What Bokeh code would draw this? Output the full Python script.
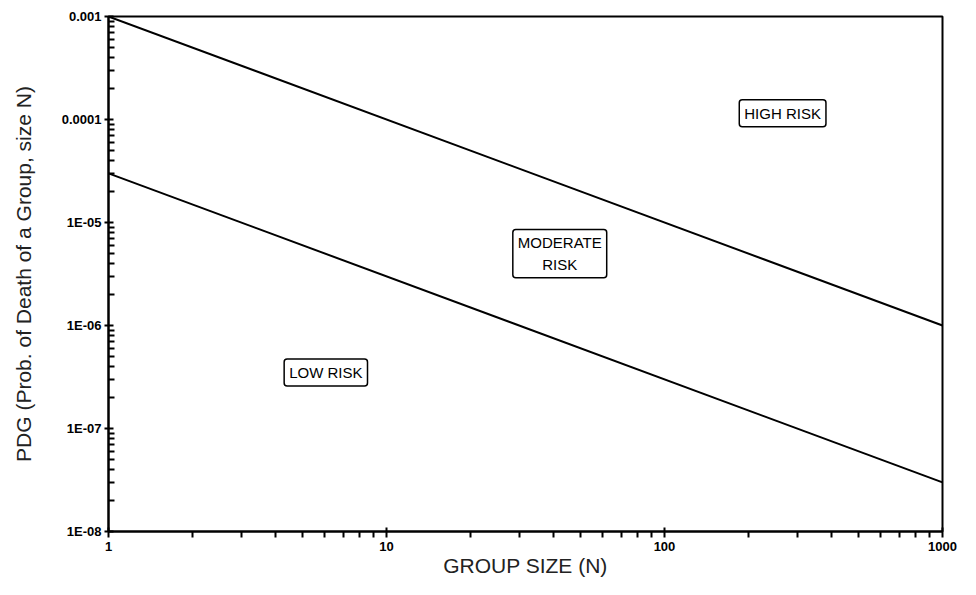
from bokeh.plotting import figure
from bokeh.models import Label, CustomJSTickFormatter, FixedTicker
from bokeh.embed import file_html
from bokeh.resources import INLINE

# Data
group_size = [1, 1000]
high_boundary = [1e-3, 1e-6]
low_boundary = [3e-5, 3e-8]

y_ticks = [1e-8, 1e-7, 1e-6, 1e-5, 1e-4, 1e-3]
y_tick_labels = ["1E-08", "1E-07", "1E-06", "1E-05", "0.0001", "0.001"]
x_ticks = [1, 10, 100, 1000]
x_tick_labels = ["1", "10", "100", "1000"]

regions = ["HIGH RISK", "MODERATE\nRISK", "LOW RISK"]
region_x = [266, 42, 6.05]
region_y = [1.15e-4, 5e-6, 3.5e-7]

# minor tick positions (2..9 within each decade)
y_minor = [k * d for d in y_ticks[:-1] for k in range(2, 10)]
x_minor = [k * d for d in x_ticks[:-1] for k in range(2, 10)]

p = figure(width=960, height=579, x_axis_type="log", y_axis_type="log",
           x_range=(1, 1000), y_range=(1e-8, 1e-3),
           output_backend="svg", toolbar_location=None,
           min_border_left=108, min_border_right=18,
           min_border_top=16, min_border_bottom=46)

p.grid.visible = False
p.outline_line_color = "black"
p.outline_line_width = 2
p.background_fill_color = "white"
p.border_fill_color = "white"

p.line(group_size, high_boundary, line_color="black", line_width=2)
p.line(group_size, low_boundary, line_color="black", line_width=2)

fmt_code = """
for (let i = 0; i < vals.length; i++) {
  if (Math.abs(Math.log10(tick) - Math.log10(vals[i])) < 1e-6) return labs[i];
}
return '';
"""
p.yaxis.ticker = FixedTicker(ticks=sorted(y_ticks), minor_ticks=sorted(y_minor))
p.yaxis.formatter = CustomJSTickFormatter(args=dict(vals=y_ticks, labs=y_tick_labels), code=fmt_code)
p.xaxis.ticker = FixedTicker(ticks=sorted(x_ticks), minor_ticks=sorted(x_minor))
p.xaxis.formatter = CustomJSTickFormatter(args=dict(vals=x_ticks, labs=x_tick_labels), code=fmt_code)

for ax in (p.xaxis, p.yaxis):
    ax.axis_line_color = "black"
    ax.axis_line_width = 2
    ax.major_tick_line_color = "black"
    ax.major_tick_line_width = 2
    ax.minor_tick_line_color = "black"
    ax.minor_tick_line_width = 2
    ax.major_label_text_font = "Liberation Sans"
    ax.major_label_text_font_style = "bold"
    ax.major_label_text_font_size = "13px"
    ax.major_label_text_color = "black"
    ax.axis_label_text_font = "Liberation Sans"
    ax.axis_label_text_font_style = "normal"
    ax.axis_label_text_font_size = "21px"
    ax.axis_label_text_color = "#222222"

p.yaxis.major_tick_in = 5
p.yaxis.major_tick_out = 4
p.yaxis.minor_tick_in = 6
p.yaxis.minor_tick_out = 0
p.yaxis.major_label_standoff = 3
p.yaxis.axis_label = "PDG (Prob. of Death of a Group, size N)"
p.yaxis.axis_label_standoff = 24

p.xaxis.major_tick_in = 4
p.xaxis.major_tick_out = 6
p.xaxis.minor_tick_in = 0
p.xaxis.minor_tick_out = 6
p.xaxis.major_label_standoff = 4
p.xaxis.axis_label = "GROUP SIZE (N)"
p.xaxis.axis_label_standoff = 0

for txt, xv, yv in zip(regions, region_x, region_y):
    lab = Label(x=xv, y=yv, text=txt, text_align="center", text_baseline="middle",
                text_font="Liberation Sans", text_font_size="15px", text_color="black",
                text_line_height=1.25,
                border_line_color="black", border_line_width=1.5,
                background_fill_color="white", padding=5, border_radius=3)
    p.add_layout(lab)

open("out.html", "w").write(file_html(p, INLINE))
